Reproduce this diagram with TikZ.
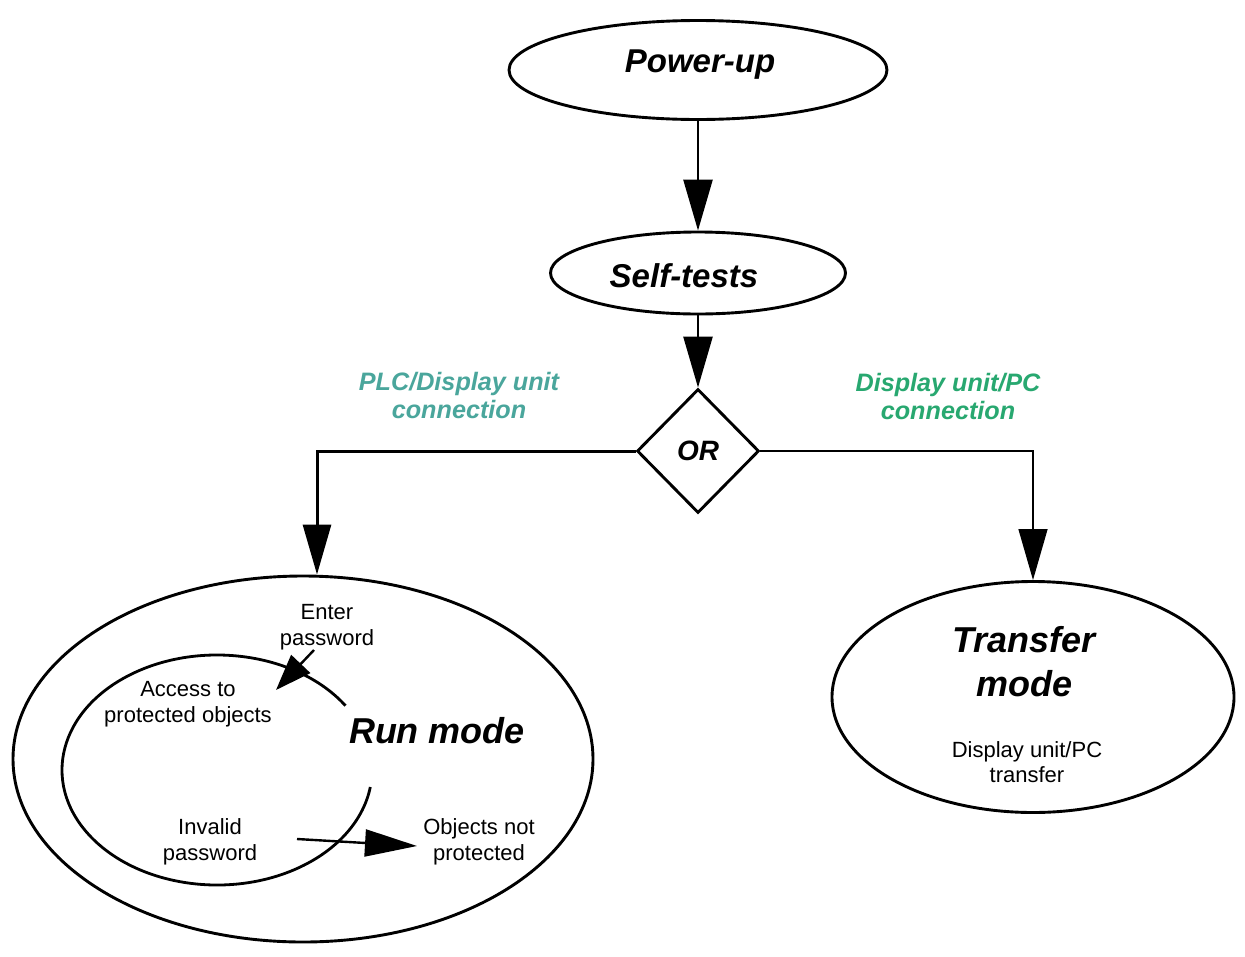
\documentclass[tikz,border=0pt]{standalone}
\usepackage{fontspec}
\setmainfont{Liberation Sans}
\usetikzlibrary{shapes.geometric,arrows.meta}
\definecolor{tealc}{RGB}{74,166,156}
\definecolor{greenc}{RGB}{40,168,112}
\begin{document}
\begin{tikzpicture}[x=1pt,y=-1pt,
  ell/.style={draw, ellipse, line width=2.9pt, inner sep=0pt},
  bigtxt/.style={font=\fontsize{33}{38}\selectfont\bfseries\itshape, inner sep=0pt},
  hugetxt/.style={font=\fontsize{36}{44}\selectfont\bfseries\itshape, align=center, inner sep=0pt},
  smalltxt/.style={font=\fontsize{22}{25.5}\selectfont, align=center, inner sep=0pt},
  labtxt/.style={font=\fontsize{25.2}{28}\selectfont\bfseries\itshape, align=center, inner sep=0pt},
  conn/.style={line width=2.6pt, -{Triangle[length=51pt,width=29pt]}}
]
\useasboundingbox (0,0) rectangle (1245,956);
\fill[white] (0,0) rectangle (1245,956);

% top nodes
\node[ell, minimum width=378pt, minimum height=99pt] (pu) at (698,70) {};
\node[bigtxt, anchor=base] (putxt) at (700,72) {Power-up};
\node[ell, minimum width=295pt, minimum height=82pt] (st) at (698,273) {};
\node[bigtxt, anchor=base] (sttxt) at (684,287) {Self-tests};
\node[draw, diamond, line width=2.9pt, inner sep=0pt, minimum width=122pt, minimum height=124pt,
      font=\fontsize{28}{32}\selectfont\bfseries\itshape] (or) at (698,451) {OR};

% labels
\node[labtxt, text=tealc] (plc) at (459,395) {PLC/Display unit\\connection};
\node[labtxt, text=greenc] (dpc) at (948,396) {Display unit/PC\\connection};

% transfer mode
\node[ell, minimum width=402pt, minimum height=231pt] (tr) at (1033,697) {};
\node[hugetxt] (trtxt) at (1024,662) {Transfer\\mode};
\node[smalltxt] (trsub) at (1027,762) {Display unit/PC\\transfer};

% run mode
\node[ell, minimum width=580pt, minimum height=366pt] (run) at (303,759) {};
\node[hugetxt, anchor=base] (runtxt) at (437,743) {Run mode};
\node[smalltxt] (enter) at (327,627) {Enter\\password};
\node[smalltxt] (access) at (188,704) {Access to\\protected objects};
\node[smalltxt] (invalid) at (210,842) {Invalid\\password};
\node[smalltxt] (objnot) at (479,842) {Objects not\\protected};

% connectors
\draw[conn] (pu.south) -- (st.north);
\draw[conn] (st.south) -- (or.north);
\draw[line width=3pt, -{Triangle[length=50pt,width=28pt]}] (or.west) -| ([xshift=14pt]run.north);
\draw[line width=1.4pt, -{Triangle[length=51pt,width=29pt]}] (or.east) -| (tr.north);

% inner loop
\coordinate (lc) at (217,770);
\draw[line width=2.8pt] (lc) ++(-34:155 and 115)
  arc[start angle=-34, end angle=-351.5, x radius=155, y radius=115];

\coordinate (ea) at (314,650);
\coordinate (eb) at (276,690);
\draw[line width=2.4pt, -{Triangle[length=36pt,width=26pt]}] (ea) -- (eb);

\coordinate (ia) at (297,839);
\coordinate (ib) at (417,846);
\draw[line width=2.4pt, -{Triangle[length=52pt,width=27pt]}] (ia) -- (ib);
\end{tikzpicture}
\end{document}
